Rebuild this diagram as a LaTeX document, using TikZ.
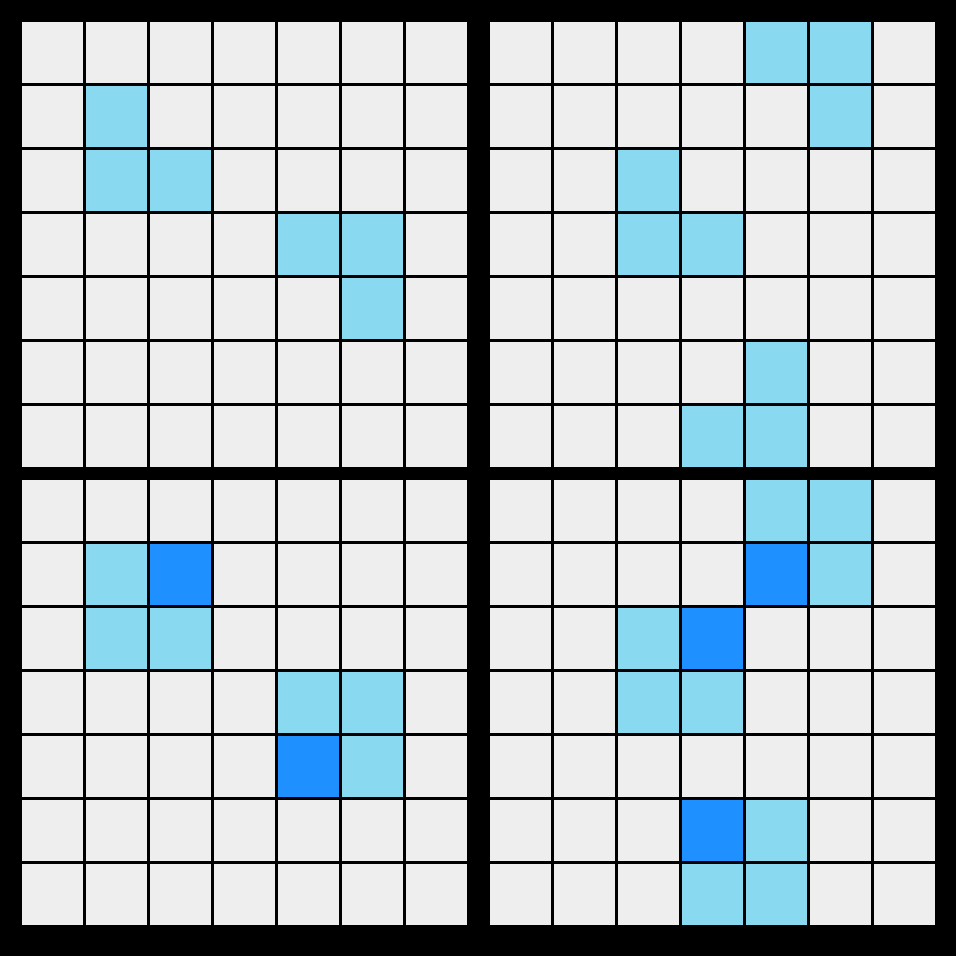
\documentclass[tikz,border=0pt]{standalone}
\definecolor{cellgrey}{RGB}{238,238,238}
\definecolor{lightblue}{RGB}{137,217,241}
\definecolor{darkblue}{RGB}{30,144,255}
\tikzset{cell/.style={fill=cellgrey}, lit/.style={fill=lightblue}, hot/.style={fill=darkblue}}
\newcommand{\gridat}[2]{%
  \foreach \r in {0,...,6}{\foreach \c in {0,...,6}{%
    \fill[cell] ({#1+64*\c},{#2+64*\r}) rectangle ++(61,61);}}}
\newcommand{\cellat}[5]{\fill[#5] ({#1+64*#4},{#2+64*#3}) rectangle ++(61,61);}
\begin{document}
\begin{tikzpicture}[x=1pt,y=-1pt]
\fill[black] (0,0) rectangle (956,956);
\useasboundingbox (0,0) rectangle (956,956);
% grids
\gridat{22}{22}
\gridat{490}{22}
\gridat{22}{480}
\gridat{490}{480}
% top-left
\foreach \r/\c in {1/1,2/1,2/2,3/4,3/5,4/5}{\cellat{22}{22}{\r}{\c}{lit}}
% top-right
\foreach \r/\c in {0/4,0/5,1/5,2/2,3/2,3/3,5/4,6/3,6/4}{\cellat{490}{22}{\r}{\c}{lit}}
% bottom-left
\foreach \r/\c in {1/1,2/1,2/2,3/4,3/5,4/5}{\cellat{22}{480}{\r}{\c}{lit}}
\foreach \r/\c in {1/2,4/4}{\cellat{22}{480}{\r}{\c}{hot}}
% bottom-right
\foreach \r/\c in {0/4,0/5,1/5,2/2,3/2,3/3,5/4,6/3,6/4}{\cellat{490}{480}{\r}{\c}{lit}}
\foreach \r/\c in {1/4,2/3,5/3}{\cellat{490}{480}{\r}{\c}{hot}}
\end{tikzpicture}
\end{document}
